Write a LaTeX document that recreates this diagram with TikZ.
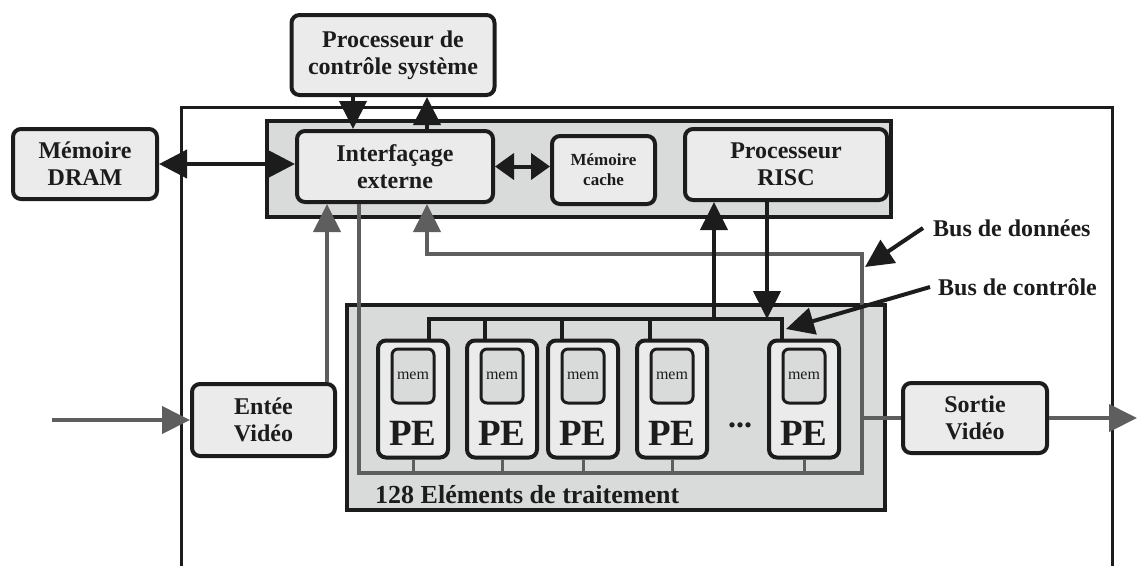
\documentclass[tikz,border=0pt]{standalone}
\usepackage{fontspec}
\setmainfont{Liberation Serif}
\usetikzlibrary{arrows.meta, positioning}
\definecolor{boxgray}{HTML}{EBEBEB}
\definecolor{panelgray}{HTML}{D9DBDA}
\definecolor{inkblack}{HTML}{1C1C1C}
\definecolor{busgray}{HTML}{5E5E5E}

\begin{document}
\begin{tikzpicture}[x=1pt, y=-1pt, every node/.style={inner sep=0pt, text=inkblack},
  blk/.style={draw=inkblack, line width=4pt, rounded corners=8pt, fill=boxgray, align=center, font=\fontsize{24}{27}\selectfont\bfseries},
  panel/.style={draw=inkblack, line width=3.5pt, fill=panelgray},
  pebox/.style={blk, minimum width=70pt, minimum height=117pt},
  membox/.style={draw=inkblack, line width=3pt, rounded corners=6pt, fill=panelgray, minimum width=42pt, minimum height=54pt, font=\fontsize{16}{16}\selectfont},
  ctl/.style={draw=inkblack, line width=4pt},
  dat/.style={draw=busgray, line width=4pt},
  bigtip/.style={-{Triangle[length=28pt,width=27pt]}},
  dbltip/.style={{Triangle[length=28pt,width=28pt]}-{Triangle[length=28pt,width=28pt]}},
  lbl/.style={font=\fontsize{24}{26}\selectfont\bfseries}]
\useasboundingbox (0,0) rectangle (1137,566);
\draw[inkblack, line width=3pt] (181,566) -- (181,107) -- (1112,107) -- (1112,566);
\node[blk, minimum width=203pt, minimum height=80pt] (pcs) at (393,55) {Processeur de\\contrôle système};
\node[blk, minimum width=144pt, minimum height=70pt] (dram) at (85,164) {Mémoire\\DRAM};
\node[panel, minimum width=624pt, minimum height=96pt] (haut) at (579,169) {};
\node[blk, minimum width=196pt, minimum height=71pt] (ifc) at (395,166.5) {Interfaçage\\externe};
\node[blk, minimum width=103pt, minimum height=68pt, font=\fontsize{17}{20}\selectfont\bfseries] (cache) at (603.5,170) {Mémoire\\cache};
\node[blk, minimum width=202pt, minimum height=71pt] (risc) at (786,164.5) {Processeur\\RISC};
\node[panel, minimum width=538pt, minimum height=205pt] (bas) at (616,407.5) {};
\node[anchor=base west, font=\fontsize{26}{26}\selectfont\bfseries] (titre) at (375,503) {128 Eléments de traitement};
\node[blk, minimum width=143pt, minimum height=72pt] (entree) at (263.5,420) {Entée\\Vidéo};
\node[blk, minimum width=144pt, minimum height=70pt] (sortie) at (975,418) {Sortie\\Vidéo};
\foreach \i/\x/\c in {1/413/429, 2/502/485, 3/583/562, 4/672/650, 5/804/782} {
  \node[pebox] (pe\i) at (\x,399) {};
  \node[membox] (mem\i) at (\x,376) {mem};
  \node[font=\fontsize{37}{37}\selectfont\bfseries] (nom\i) at (\x,433) {PE};
  \coordinate (cb\i) at (\c,319);
}
\node[font=\fontsize{32}{32}\selectfont\bfseries] (pts) at (740,425) {...};
\node[lbl, anchor=west] (bd) at (933,228) {Bus de données};
\node[lbl, anchor=west] (bc) at (938,287) {Bus de contrôle};
\coordinate (dbG) at (359,473);
\coordinate (dbD) at (862,473);
\coordinate (dbH) at (862,254);
\coordinate (dbR) at (427,254);
\coordinate (up) at (714,319);
\coordinate (dn) at (767,319);
\coordinate (src) at (52,420);
\coordinate (dst) at (1137,418);
\coordinate (bdp) at (865,267);
\coordinate (bcp) at (786,329);
\path ([xshift=-40pt]pcs.south) coordinate (pcsA) ([xshift=34pt]pcs.south) coordinate (pcsB)
  ([xshift=-10pt]entree.north east) coordinate (ent);
\draw[dat, bigtip] (dbG |- ifc.south) -- (dbG) -- (dbD) -- (dbH) -- (dbR) -- (dbR |- ifc.south);
\foreach \i in {1,...,5} \draw[dat, line width=3pt] (pe\i.south) -- (pe\i.south |- dbG);
\draw[dat] (dbD |- sortie.west) -- (sortie.west);
\draw[dat, bigtip] (ent) -- (ent |- ifc.south);
\draw[dat, bigtip] (src) -- (entree.west);
\draw[dat, bigtip] (sortie.east) -- (dst);
\draw[ctl] (cb1 |- pe1.north) -- (cb1) -- (cb5) -- (cb5 |- pe5.north);
\foreach \i in {2,3,4} \draw[ctl] (cb\i) -- (cb\i |- pe\i.north);
\draw[ctl, bigtip] (up) -- (up |- risc.south);
\draw[ctl, bigtip] (dn |- risc.south) -- (dn);
\draw[ctl, bigtip] (pcsA) -- (pcsA |- ifc.north);
\draw[ctl, bigtip] (pcsB |- ifc.north) -- (pcsB);
\draw[ctl, dbltip] (dram.east) -- (dram.east -| ifc.west);
\draw[ctl, {Triangle[length=19pt,width=26pt]}-{Triangle[length=19pt,width=26pt]}] (ifc.east) -- (ifc.east -| cache.west);
\draw[ctl, bigtip] ([xshift=-10pt]bd.west) -- (bdp);
\draw[ctl, bigtip] ([xshift=-8pt]bc.west) -- (bcp);
\end{tikzpicture}
\end{document}
